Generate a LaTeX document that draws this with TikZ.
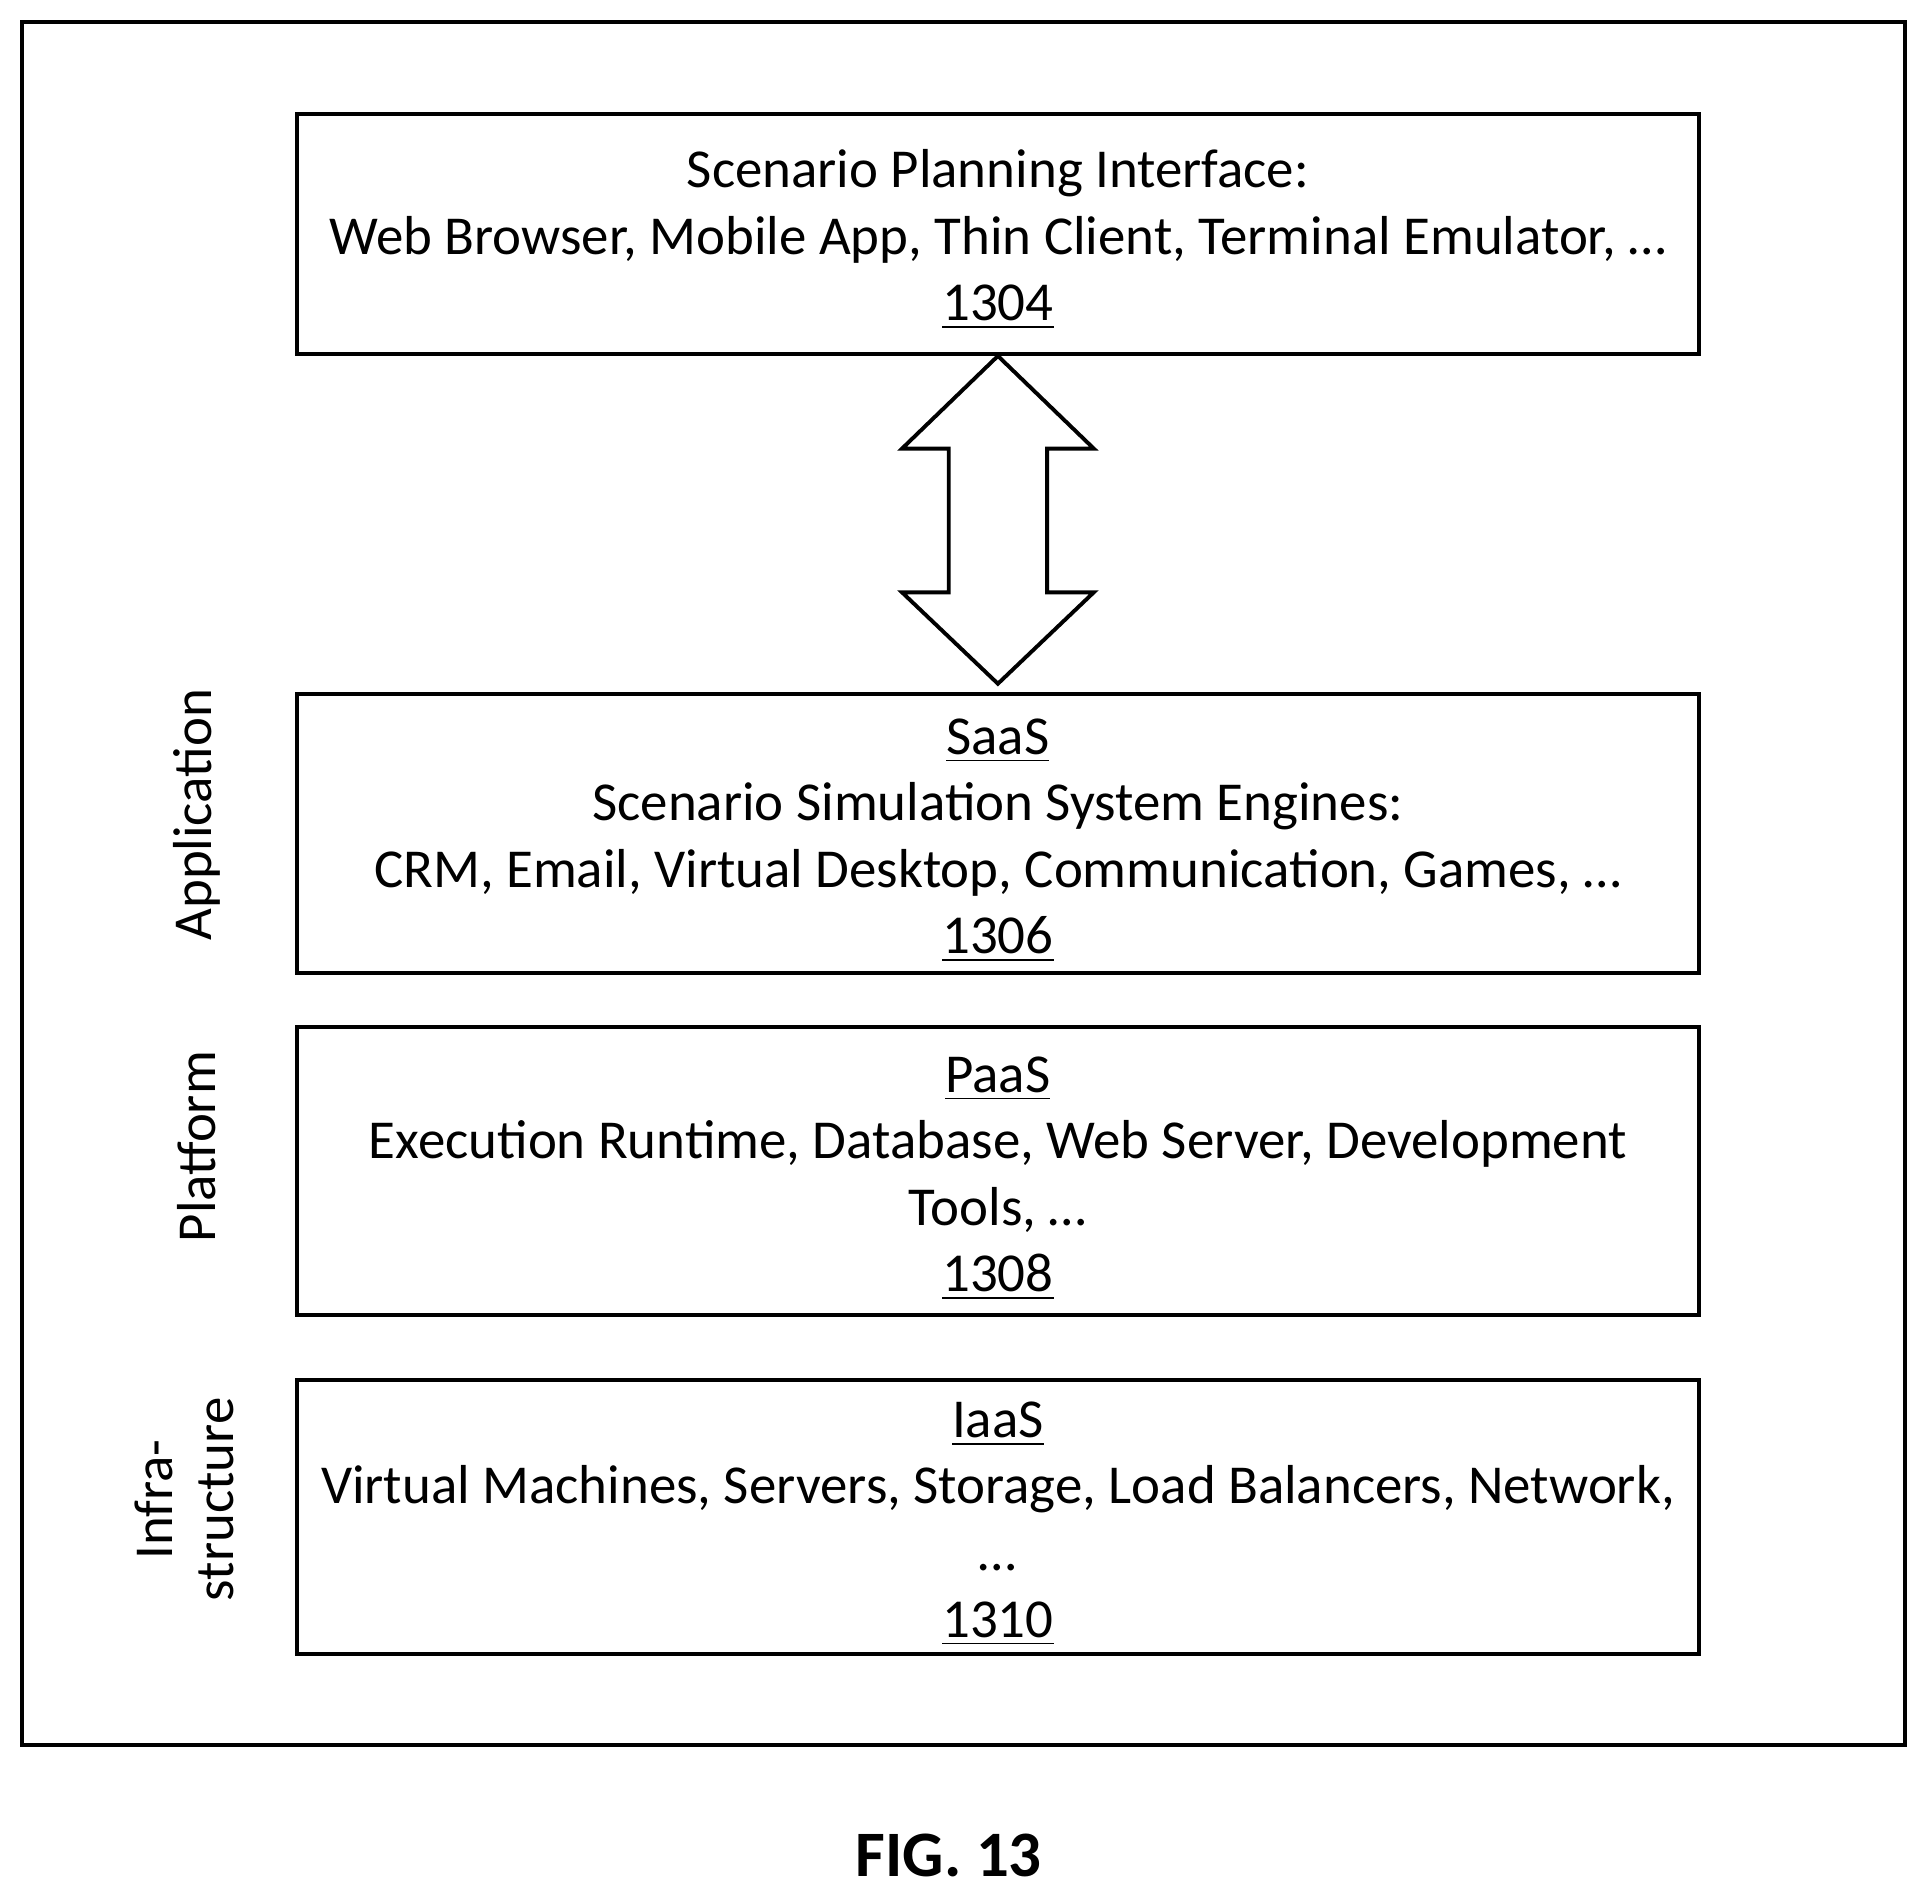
\documentclass[tikz,border=0pt]{standalone}
\usepackage{fontspec}
\setmainfont{Carlito}
\begin{document}
\begin{tikzpicture}[x=0.01cm,y=-0.01cm,
  box/.style={draw,line width=0.9pt,minimum width=11.4cm,inner sep=0pt},
  txt/.style={align=center,inner sep=0pt,font=\fontsize{12.7pt}{15.4pt}\selectfont},
  side/.style={rotate=90,align=center,font=\fontsize{12.7pt}{14pt}\selectfont}]
\useasboundingbox (0,0) rectangle (1568,1545);
\draw[line width=0.9pt] (18,18) rectangle (1550,1420);
\node[box,minimum height=1.95cm] (b1) at (812,190.5) {};
\node[box,minimum height=2.27cm] (b2) at (812,678.5) {};
\node[box,minimum height=2.34cm] (b3) at (812,953) {};
\node[box,minimum height=2.23cm] (b4) at (812,1234.5) {};
\node[txt] (t1) at (812,195) {Scenario Planning Interface:\\Web Browser, Mobile App, Thin Client, Terminal Emulator, \dots\\\underline{1304}};
\node[txt] (t2) at (812,684) {\underline{SaaS}\\Scenario Simulation System Engines:\\CRM, Email, Virtual Desktop, Communication, Games, \dots\\\underline{1306}};
\node[txt] (t3) at (812,959) {\underline{PaaS}\\Execution Runtime, Database, Web Server, Development\\Tools, \dots\\\underline{1308}};
\node[txt] (t4) at (812,1240) {\underline{IaaS}\\Virtual Machines, Servers, Storage, Load Balancers, Network,\\\dots\\\underline{1310}};
\coordinate (t) at (b1.south);
\coordinate (bt) at ([yshift=0.07cm]b2.north);
\draw[line width=0.9pt] (t) -- (890,365) -- (852,365) -- (852,482) -- (890,482) -- (bt) -- (734,482) -- (772,482) -- (772,365) -- (734,365) -- cycle;
\node[side] (l1) at (160,663) {Application};
\node[side] (l2) at (160,933) {Platform};
\node[side] (l3) at (150,1220) {Infra-\\structure};
\node[font=\bfseries\fontsize{15pt}{18pt}\selectfont] (fig) at (772,1510) {FIG. 13};
\end{tikzpicture}
\end{document}
